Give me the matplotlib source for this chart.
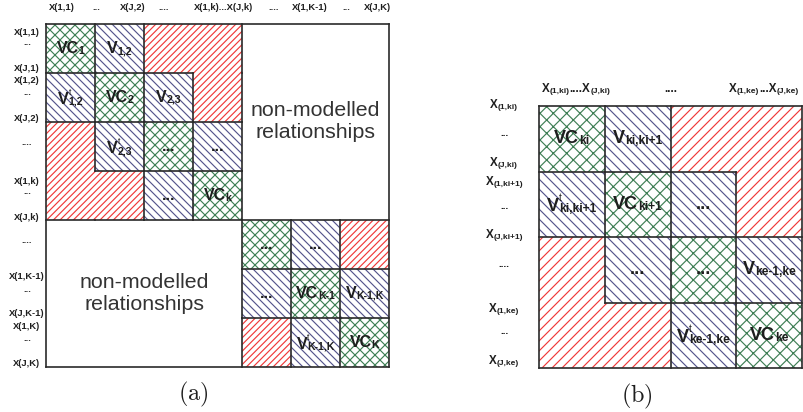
import matplotlib
matplotlib.use('Agg')
import matplotlib.pyplot as plt
from matplotlib.patches import Rectangle
from matplotlib.collections import LineCollection
from matplotlib.offsetbox import TextArea, HPacker, VPacker, AnnotationBbox

plt.rcParams['font.family'] = ['Liberation Sans', 'DejaVu Sans']
plt.rcParams['hatch.linewidth'] = 0.7

# ---- data -------------------------------------------------------------
# cell types: G = variance block (VC), B = modelled covariance, R = red hatched,
# W = non-modelled (blank)
grid_a = ["GBRRWWW",
          "BGBRWWW",
          "RBGBWWW",
          "RRBGWWW",
          "WWWWGBR",
          "WWWWBGB",
          "WWWWRBG"]

# (row, col): (main text, subscript, transposed)
cells_a = {
    (0, 0): ("VC", "1", False),
    (0, 1): ("V", "1,2", False),
    (1, 0): ("V", "1,2", True),
    (1, 1): ("VC", "2", False),
    (1, 2): ("V", "2,3", False),
    (2, 1): ("V", "2,3", True),
    (2, 2): ("...", "", False),
    (2, 3): ("...", "", False),
    (3, 2): ("...", "", False),
    (3, 3): ("VC", "k", False),
    (4, 4): ("...", "", False),
    (4, 5): ("...", "", False),
    (5, 4): ("...", "", False),
    (5, 5): ("VC", "K-1", False),
    (5, 6): ("V", "K-1,K", False),
    (6, 5): ("V", "K-1,K", True),
    (6, 6): ("VC", "K", False),
}

# blank regions (row0, row1, col0, col1)
blank_a = [(0, 4, 4, 7), (4, 7, 0, 4)]
blank_text = "non-modelled\nrelationships"

top_a = ["X(1,1)", "...", "X(J,2)", "....", "X(1,k)...X(J,k)", "....",
         "X(1,K-1)", "...", "X(J,K)"]
left_a = ["X(1,1)", "...", "X(J,1)", "X(1,2)", "...", "X(J,2)", "....",
          "X(1,k)", "...", "X(J,k)", "....", "X(1,K-1)", "...", "X(J,K-1)",
          "X(1,K)", "...", "X(J,K)"]

grid_b = ["GBRR",
          "BGBR",
          "RBGB",
          "RRBG"]

cells_b = {
    (0, 0): ("VC", "ki", False),
    (0, 1): ("V", "ki,ki+1", False),
    (1, 0): ("V", "ki,ki+1", True),
    (1, 1): ("VC", "ki+1", False),
    (1, 2): ("...", "", False),
    (2, 1): ("...", "", False),
    (2, 2): ("...", "", False),
    (2, 3): ("V", "ke-1,ke", False),
    (3, 2): ("V", "ke-1,ke", True),
    (3, 3): ("VC", "ke", False),
}

top_b = [[("X", "(1,ki)"), ("....X", "(J,ki)")], [("....", "")],
         [("X", "(1,ke)"), ("...X", "(J,ke)")]]
left_b = ["(1,ki)", "...", "(J,ki)", "(1,ki+1)", "...", "(J,ki+1)", "....",
          "(1,ke)", "...", "(J,ke)"]

# ---- layout -----------------------------------------------------------
top_a_x = [0.33, 1.02, 1.76, 2.41, 3.63, 4.65, 5.39, 6.12, 6.76]
top_a_y = -0.285
left_a_x = -0.39
left_a_y = [0.22, 0.43, 0.96, 1.20, 1.45, 1.98, 2.47, 3.27, 3.47, 4.00,
            4.47, 5.20, 5.47, 5.96, 6.22, 6.47, 6.98]
top_b_x = [0.56, 2.01, 3.42]
top_b_y = -0.20
left_b_x = -0.53
left_b_y = [0.04, 0.46, 0.92, 1.22, 1.57, 2.02, 2.45, 3.16, 3.48, 3.94]

COLORS = {'G': '#3f7f55', 'B': '#55558c', 'R': '#f03838'}
TEXT = '#1e1e1e'
EDGE = '#2a2a2a'


def needs_line(a, b):
    return a != b or a in 'GB'


def draw_grid(ax, grid, hatches):
    n = len(grid)
    for r in range(n):
        for c in range(n):
            t = grid[r][c]
            if t == 'W':
                continue
            ax.add_patch(Rectangle((c, r), 1, 1, facecolor='white',
                                   edgecolor=COLORS[t], hatch=hatches[t],
                                   linewidth=0))
    segs = []
    for r in range(n):
        for c in range(1, n):
            if needs_line(grid[r][c - 1], grid[r][c]):
                segs.append([(c, r), (c, r + 1)])
    for r in range(1, n):
        for c in range(n):
            if needs_line(grid[r - 1][c], grid[r][c]):
                segs.append([(c, r), (c + 1, r)])
    segs += [[(0, 0), (n, 0)], [(n, 0), (n, n)], [(n, n), (0, n)], [(0, n), (0, 0)]]
    ax.add_collection(LineCollection(segs, colors=EDGE, linewidths=1.0,
                                     clip_on=False, capstyle='projecting'))
    ax.set_xlim(0, n)
    ax.set_ylim(n, 0)
    ax.axis('off')


def cell_label(ax, x, y, main, sub, transposed, size):
    bold = dict(fontweight='bold', color=TEXT, fontsize=size)
    parts = [TextArea(main, textprops=bold)]
    if sub:
        sub_area = TextArea(sub, textprops=dict(bold, fontsize=size * 0.66))
        if transposed:
            t_area = TextArea('t', textprops=dict(color=TEXT, fontsize=size * 0.55))
            sub_area = VPacker(children=[t_area, sub_area], align='left',
                               pad=0, sep=0)
        parts.append(sub_area)
    box = HPacker(children=parts, align='bottom', pad=0, sep=0)
    ax.add_artist(AnnotationBbox(box, (x, y), frameon=False, pad=0,
                                 box_alignment=(0.5, 0.5),
                                 annotation_clip=False))


def axis_label_b(ax, x, y, pieces, big=7.0, small=5.0):
    parts = []
    for main, sub in pieces:
        parts.append(TextArea(main, textprops=dict(fontweight='bold', color=TEXT,
                                                   fontsize=big)))
        if sub:
            parts.append(TextArea(sub, textprops=dict(fontweight='bold', color=TEXT,
                                                      fontsize=small)))
    box = HPacker(children=parts, align='bottom', pad=0, sep=0)
    ax.add_artist(AnnotationBbox(box, (x, y), xybox=(0, -0.212 * big),
                                 boxcoords='offset points', frameon=False, pad=0,
                                 box_alignment=(0.5, 0.0),
                                 annotation_clip=False))


fig = plt.figure(figsize=(803 / 120, 412 / 120), dpi=120)
ax_a = fig.add_axes([46 / 803, 1 - 367 / 412, 343 / 803, 343 / 412])
ax_b = fig.add_axes([539 / 803, 1 - 368 / 412, 263 / 803, 262 / 412])

# ---- panel (a) ----
draw_grid(ax_a, grid_a, {'G': 'xxxx', 'B': '\\' * 5, 'R': '/' * 6})
for (r, c), (main, sub, tr) in cells_a.items():
    cell_label(ax_a, c + 0.5, r + 0.5, main, sub, tr, 9.6)
for r0, r1, c0, c1 in blank_a:
    ax_a.text((c0 + c1) / 2, (r0 + r1) / 2, blank_text, ha='center', va='center',
              fontsize=12.8, color='#333333', linespacing=1.2)
for lab, x in zip(top_a, top_a_x):
    ax_a.text(x, top_a_y, lab, ha='center', va='baseline', fontsize=5.6,
              fontweight='bold', color=TEXT, clip_on=False)
for lab, y in zip(left_a, left_a_y):
    ax_a.text(left_a_x, y, lab, ha='center', va='baseline', fontsize=5.6,
              fontweight='bold', color=TEXT, clip_on=False)
ax_a.text(3.0, 7.57, r'$(\mathrm{a})$', math_fontfamily='cm', fontsize=14.5,
          ha='center', va='center', color=TEXT)

# ---- panel (b) ----
draw_grid(ax_b, grid_b, {'G': 'xxx', 'B': '\\' * 4, 'R': '/' * 4})
for (r, c), (main, sub, tr) in cells_b.items():
    cell_label(ax_b, c + 0.5, r + 0.5, main, sub, tr, 10.8)
for pieces, x in zip(top_b, top_b_x):
    axis_label_b(ax_b, x, top_b_y, pieces)
for lab, y in zip(left_b, left_b_y):
    if lab.startswith('('):
        axis_label_b(ax_b, left_b_x, y, [("X", lab)])
    else:
        axis_label_b(ax_b, left_b_x, y, [(lab, "")], big=6.0)
ax_b.text(1.49, 4.44, r'$(\mathrm{b})$', math_fontfamily='cm', fontsize=14.5,
          ha='center', va='center', color=TEXT)

fig.savefig('out.png', dpi=120)
